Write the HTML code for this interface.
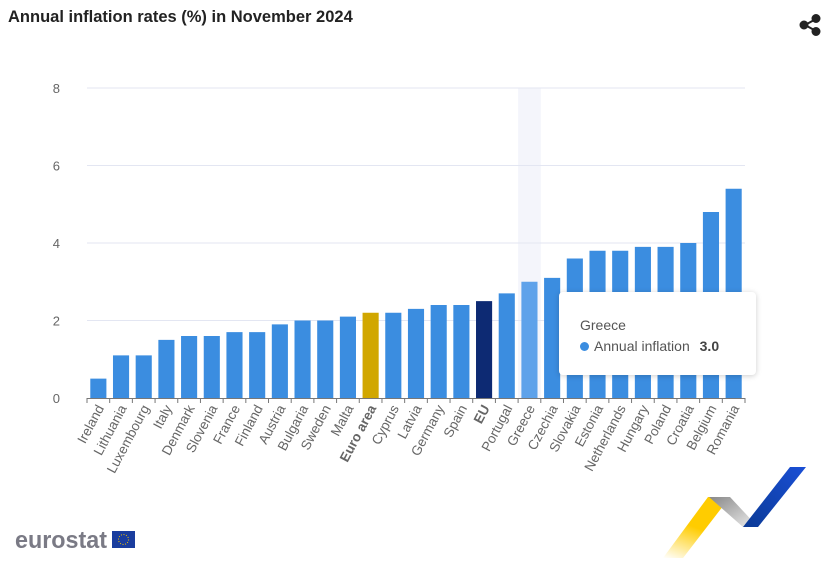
<!DOCTYPE html>
<html><head><meta charset="utf-8"><style>
body{margin:0;background:#fff;width:829px;height:577px;overflow:hidden;font-family:"Liberation Sans",sans-serif;}
#title{position:absolute;left:8px;top:8px;font-size:16.5px;font-weight:bold;color:#222;}
#tip{position:absolute;left:559px;top:292px;width:197px;height:83px;background:#fff;border-radius:4px;box-shadow:0 1px 6px rgba(0,0,0,0.2);}
</style></head><body>
<div id="title">Annual inflation rates (%) in November 2024</div>
<svg id="chart" width="829" height="577" style="position:absolute;left:0;top:0">
<g id="share" fill="#222" stroke="#222" stroke-width="2">
<line x1="805" y1="25" x2="816" y2="19"/><line x1="805" y1="25" x2="816" y2="31"/>
<circle cx="804" cy="25" r="3.5"/><circle cx="816" cy="18.5" r="3.5"/><circle cx="816" cy="31.5" r="3.5"/></g>
<g id="grid"></g><g id="bars"></g><g id="xaxis"></g>
<g>
<text x="15" y="548" font-size="24" fill="#7a7a85" font-weight="bold" textLength="92" lengthAdjust="spacingAndGlyphs">eurostat</text>
<rect x="112" y="531" width="23" height="17" fill="#1a3d9e"/><circle cx="123.5" cy="539.5" r="5" fill="none" stroke="#f2c200" stroke-dasharray="1 1.6"/></g>
<defs><linearGradient id="gy" x1="0" y1="1" x2="0.4" y2="0"><stop offset="0" stop-color="#fff"/><stop offset="0.6" stop-color="#ffcc00"/></linearGradient>
<linearGradient id="gg" x1="0" y1="0" x2="1" y2="1"><stop offset="0" stop-color="#888"/><stop offset="1" stop-color="#eee"/></linearGradient>
<linearGradient id="gb" x1="0" y1="1" x2="1" y2="0"><stop offset="0" stop-color="#0b3a95"/><stop offset="1" stop-color="#1a4fd6"/></linearGradient></defs>
<g>
<polygon points="663,558 708,497 730,497 683,558" fill="url(#gy)"/>
<polygon points="709,497 730,497 758,527 743,527" fill="url(#gg)"/>
<polygon points="743,527 758,527 806,467 790,467" fill="url(#gb)"/></g>
</svg>
<div id="tip">
<div style="position:absolute;left:21px;top:25px;font-size:14px;color:#555">Greece</div>
<div style="position:absolute;left:21px;top:46px;font-size:14px;color:#555;white-space:nowrap"><span style="display:inline-block;width:9px;height:9px;border-radius:50%;background:#3b8de0;margin-right:5px"></span>Annual inflation <b style="margin-left:6px;color:#444">3.0</b></div>
</div>
<script>
const categories=["Ireland","Lithuania","Luxembourg","Italy","Denmark","Slovenia","France","Finland","Austria","Bulgaria","Sweden","Malta","Euro area","Cyprus","Latvia","Germany","Spain","EU","Portugal","Greece","Czechia","Slovakia","Estonia","Netherlands","Hungary","Poland","Croatia","Belgium","Romania"];
const values=[0.5,1.1,1.1,1.5,1.6,1.6,1.7,1.7,1.9,2.0,2.0,2.1,2.2,2.2,2.3,2.4,2.4,2.5,2.7,3.0,3.1,3.6,3.8,3.8,3.9,3.9,4.0,4.8,5.4];
const yTicks=[0,2,4,6,8];
const NS="http://www.w3.org/2000/svg";
const x0=87,x1=745,yb=398,yt=88,ymax=8;
const band=(x1-x0)/categories.length;
const X=i=>x0+band*i;
const Y=v=>yb-(v/ymax)*(yb-yt);
function mk(t,a,p){const e=document.createElementNS(NS,t);for(const k in a)e.setAttribute(k,a[k]);p.appendChild(e);return e;}
const grid=document.getElementById('grid'),bars=document.getElementById('bars'),xa=document.getElementById('xaxis');
const hi=categories.indexOf("Greece");
const hl=mk('rect',{x:X(hi),y:yt,width:band,height:yb-yt,fill:'#f4f5fb'},grid);


yTicks.forEach(t=>{
 if(t>0){const l=mk('line',{x1:x0,x2:x1,y1:Y(t),y2:Y(t),stroke:'#e3e6f2'},grid);
 
 }
 const tx=mk('text',{x:60,y:Y(t)+5,'font-size':13,fill:'#666','text-anchor':'end'},grid);
 tx.textContent=t;
 
 
});
categories.forEach((c,i)=>{
 const v=values[i];let col='#3b8de0';
 if(c==='Euro area')col='#d1a700';else if(c==='EU')col='#0d2a73';else if(c==='Greece')col='#5ea2ea';
 const bw=band*0.71;
 const r=mk('rect',{x:X(i)+(band-bw)/2,y:Y(v),width:bw,height:yb-Y(v),fill:col},bars);
 
 
 mk('line',{x1:X(i),x2:X(i),y1:yb,y2:yb+5,stroke:'#777'},xa);
 const cx=X(i)+band/2;
 const t=mk('text',{x:cx+6,y:yb+10,'font-size':13.5,fill:'#666','text-anchor':'end',transform:`rotate(-62 ${cx+6} ${yb+10})`},xa);
 if(c==='Euro area'||c==='EU'){t.setAttribute('font-weight','bold');}
 t.textContent=c;
 
 
});
mk('line',{x1:X(categories.length),x2:X(categories.length),y1:yb,y2:yb+5,stroke:'#777'},xa);
const ax=mk('line',{x1:x0,x2:x1,y1:yb+0.5,y2:yb+0.5,stroke:'#777'},xa);


</script>
</body></html>
